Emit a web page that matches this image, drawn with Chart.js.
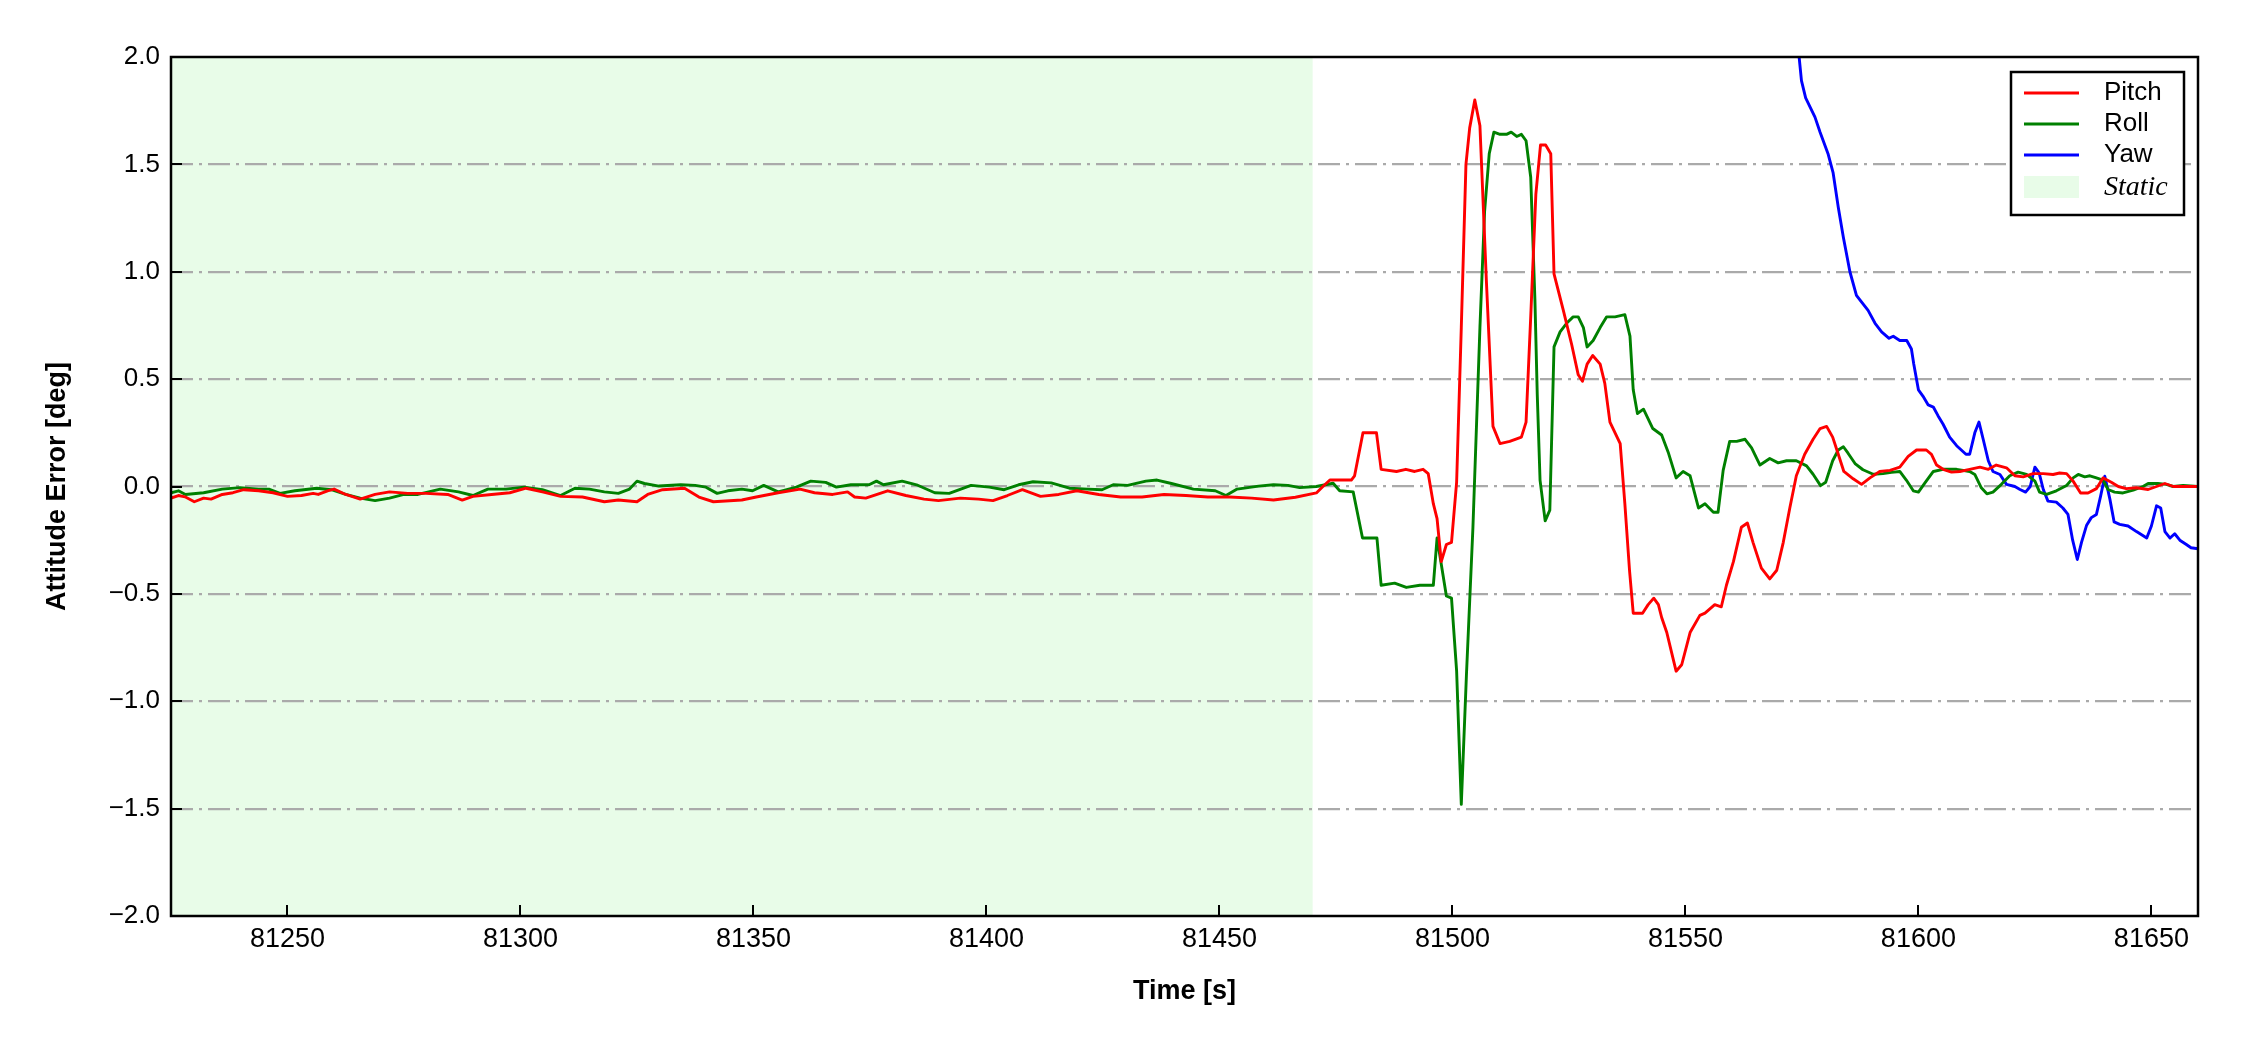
<!DOCTYPE html>
<html>
<head>
<meta charset="utf-8">
<script src="https://cdn.jsdelivr.net/npm/chart.js@4.4.1/dist/chart.umd.min.js"></script>
<style>
  html, body { margin: 0; padding: 0; background: #fff; }
  canvas { display: block; }
</style>
</head>
<body>
<canvas id="grafico" width="2250" height="1050"></canvas>
<script>
// Tempo [s] e erros de atitude [deg]
const pitchT = [81225, 81226.6, 81228, 81230, 81232, 81233.6, 81236, 81238.3, 81240.6, 81243.8, 81246.9, 81250, 81253, 81255.5, 81256.6, 81258.6, 81260, 81262.5, 81265.6, 81268.8, 81271.9, 81275.8, 81279.7, 81284.4, 81287.5, 81289.8, 81293.8, 81297.7, 81301.2, 81304.7, 81308.6, 81313.3, 81318, 81321, 81325, 81327.3, 81330.5, 81335.2, 81338.3, 81341.4, 81347.5, 81350.6, 81355.3, 81360, 81363.1, 81367, 81370.2, 81371.7, 81374.1, 81378.8, 81382.7, 81386.6, 81389.7, 81394.4, 81398.3, 81401.4, 81404.5, 81407.7, 81411.6, 81415.5, 81419.4, 81424.1, 81428.8, 81433.4, 81438.1, 81442.8, 81447.5, 81452.2, 81456.9, 81461.6, 81466.3, 81470.8, 81472.2, 81473.7, 81478.3, 81479, 81480.8, 81483.7, 81484.7, 81488, 81490, 81491.9, 81493.7, 81494.8, 81495.9, 81496.7, 81497.6, 81498.7, 81499.8, 81500.9, 81501.9, 81502.9, 81503.7, 81504.8, 81505.9, 81507.3, 81508.7, 81510.2, 81512.3, 81514.8, 81515.8, 81516.8, 81517.9, 81518.9, 81520, 81521.1, 81521.8, 81523.8, 81525.6, 81527, 81527.9, 81528.9, 81530.1, 81531.7, 81532.7, 81533.8, 81534.9, 81536, 81537, 81538, 81538.8, 81540.8, 81542, 81543.2, 81544.2, 81544.9, 81546, 81547, 81548, 81549.2, 81551, 81553.1, 81554.2, 81556.3, 81557.7, 81558.8, 81560.3, 81562, 81563.3, 81564.5, 81566.3, 81568.1, 81569.6, 81571, 81572.4, 81573.8, 81575.6, 81577.4, 81578.9, 81580.3, 81581.6, 81582.8, 81584, 81586, 81587.8, 81589.6, 81591.7, 81593.9, 81596, 81597.8, 81599.6, 81601.7, 81602.8, 81603.9, 81605.3, 81607.1, 81608.9, 81611, 81613.2, 81615, 81616.7, 81618.9, 81620.7, 81622.5, 81624.6, 81626.8, 81628.9, 81630.3, 81631.8, 81633.2, 81634.8, 81636.4, 81638.2, 81639.6, 81641.4, 81642.9, 81644.6, 81646.8, 81649.3, 81651.1, 81652.9, 81654.7, 81656.8, 81660];
const pitchV = [-0.054, -0.042, -0.048, -0.071, -0.054, -0.059, -0.037, -0.029, -0.015, -0.02, -0.029, -0.046, -0.042, -0.032, -0.037, -0.02, -0.012, -0.037, -0.059, -0.037, -0.025, -0.032, -0.032, -0.037, -0.063, -0.046, -0.037, -0.029, -0.008, -0.025, -0.046, -0.049, -0.071, -0.063, -0.071, -0.037, -0.015, -0.008, -0.049, -0.071, -0.063, -0.049, -0.029, -0.012, -0.029, -0.037, -0.025, -0.049, -0.054, -0.02, -0.042, -0.059, -0.066, -0.054, -0.059, -0.066, -0.042, -0.015, -0.046, -0.037, -0.02, -0.037, -0.049, -0.049, -0.037, -0.042, -0.049, -0.049, -0.054, -0.063, -0.05, -0.03, 0.0, 0.03, 0.03, 0.05, 0.25, 0.25, 0.08, 0.07, 0.08, 0.07, 0.08, 0.06, -0.08, -0.15, -0.35, -0.27, -0.26, 0.02, 0.74, 1.5, 1.67, 1.8, 1.68, 0.95, 0.28, 0.2, 0.21, 0.23, 0.3, 0.79, 1.36, 1.59, 1.59, 1.55, 0.99, 0.82, 0.66, 0.52, 0.49, 0.57, 0.61, 0.57, 0.48, 0.3, 0.25, 0.2, -0.08, -0.39, -0.59, -0.59, -0.55, -0.52, -0.55, -0.61, -0.68, -0.77, -0.86, -0.83, -0.68, -0.6, -0.59, -0.55, -0.56, -0.46, -0.35, -0.19, -0.17, -0.26, -0.38, -0.43, -0.39, -0.26, -0.1, 0.05, 0.15, 0.22, 0.27, 0.28, 0.23, 0.15, 0.07, 0.036, 0.01, 0.04, 0.07, 0.075, 0.09, 0.14, 0.17, 0.17, 0.15, 0.1, 0.08, 0.067, 0.07, 0.08, 0.09, 0.08, 0.1, 0.087, 0.05, 0.045, 0.06, 0.06, 0.056, 0.063, 0.06, 0.025, -0.03, -0.03, -0.01, 0.04, 0.02, 0.0, -0.01, -0.006, -0.014, 0.0, 0.014, 0.0, 0.0, 0.0];

const rollT = [81225, 81226.6, 81228.1, 81232, 81236, 81239.8, 81243.8, 81246, 81248.4, 81251.6, 81256.3, 81259.4, 81262.5, 81265.6, 81268.8, 81271.9, 81275, 81278, 81282.8, 81286.7, 81289.8, 81293, 81296.9, 81300.8, 81304.7, 81308.6, 81311.7, 81314.8, 81318, 81321, 81323.4, 81325, 81326.6, 81329.7, 81334.4, 81337.5, 81339.8, 81342.2, 81344.5, 81347.5, 81349.8, 81352.2, 81355.3, 81359.2, 81362.3, 81365.5, 81367.8, 81370.9, 81374.8, 81376.4, 81377.9, 81381.9, 81385, 81388.9, 81392, 81396.7, 81400.6, 81403.8, 81406.9, 81410, 81413.9, 81417.8, 81421.7, 81424.8, 81427.2, 81430.3, 81434.2, 81436.6, 81439.7, 81444.4, 81449.1, 81451.4, 81453.8, 81458.4, 81461.6, 81464.7, 81467.2, 81470.8, 81474.4, 81475.8, 81478.7, 81480.7, 81483.8, 81484.7, 81487.6, 81490.1, 81493, 81495.9, 81496.7, 81498.7, 81499.8, 81500.9, 81501.9, 81503, 81504.4, 81505.9, 81506.9, 81507.9, 81508.9, 81510.2, 81511.6, 81512.6, 81513.8, 81514.8, 81515.8, 81516.8, 81517.7, 81518.2, 81518.8, 81519.9, 81520.9, 81521.8, 81523.1, 81524.5, 81525.9, 81527, 81528.1, 81528.9, 81530.2, 81531.7, 81533.1, 81534.9, 81537, 81538.1, 81538.8, 81539.7, 81541, 81543, 81544.9, 81546.3, 81548, 81549.5, 81551, 81552.8, 81554.2, 81556, 81557, 81558.1, 81559.5, 81561, 81562.8, 81564.2, 81566, 81568.1, 81569.9, 81571.7, 81573.8, 81576, 81577.4, 81579, 81580.1, 81581.6, 81582.8, 81583.9, 81584.9, 81586.4, 81588.1, 81590.3, 81592.4, 81594.2, 81596, 81597.4, 81598.9, 81600, 81601.4, 81603.2, 81605.3, 81608.2, 81611, 81612.1, 81613.5, 81614.7, 81616, 81617.8, 81619.6, 81621.4, 81623.2, 81625, 81626, 81627.5, 81629.6, 81631.8, 81633.2, 81634.3, 81635.7, 81636.8, 81638.2, 81639.6, 81640.7, 81642.1, 81643.9, 81646.1, 81648.2, 81649.3, 81651.4, 81653.2, 81654.7, 81656.8, 81660];
const rollV = [-0.029, -0.02, -0.037, -0.029, -0.012, -0.005, -0.012, -0.012, -0.032, -0.02, -0.008, -0.015, -0.037, -0.054, -0.066, -0.054, -0.037, -0.037, -0.012, -0.025, -0.042, -0.012, -0.012, -0.003, -0.015, -0.042, -0.008, -0.012, -0.025, -0.032, -0.012, 0.025, 0.014, 0.002, 0.008, 0.005, -0.003, -0.032, -0.02, -0.012, -0.02, 0.005, -0.025, -0.003, 0.025, 0.019, -0.003, 0.008, 0.008, 0.025, 0.008, 0.025, 0.008, -0.029, -0.032, 0.005, -0.003, -0.015, 0.008, 0.022, 0.017, -0.008, -0.012, -0.015, 0.008, 0.005, 0.025, 0.03, 0.014, -0.012, -0.02, -0.042, -0.012, 0.002, 0.008, 0.005, -0.005, 0.0, 0.015, -0.02, -0.025, -0.24, -0.24, -0.46, -0.45, -0.47, -0.46, -0.46, -0.24, -0.51, -0.52, -0.86, -1.48, -0.88, -0.19, 0.74, 1.28, 1.55, 1.65, 1.64, 1.64, 1.65, 1.63, 1.64, 1.61, 1.44, 0.87, 0.43, 0.03, -0.16, -0.11, 0.65, 0.72, 0.76, 0.79, 0.79, 0.74, 0.65, 0.68, 0.74, 0.79, 0.79, 0.8, 0.7, 0.45, 0.34, 0.36, 0.27, 0.24, 0.16, 0.04, 0.07, 0.05, -0.1, -0.08, -0.12, -0.12, 0.075, 0.21, 0.21, 0.22, 0.18, 0.1, 0.13, 0.11, 0.12, 0.12, 0.096, 0.057, 0.004, 0.02, 0.12, 0.17, 0.185, 0.155, 0.107, 0.078, 0.057, 0.06, 0.066, 0.07, 0.03, -0.02, -0.026, 0.017, 0.07, 0.08, 0.08, 0.07, 0.056, -0.006, -0.034, -0.026, 0.01, 0.05, 0.067, 0.056, 0.025, -0.026, -0.037, -0.02, 0.005, 0.04, 0.056, 0.045, 0.05, 0.04, 0.03, -0.014, -0.026, -0.03, -0.017, 0.0, 0.014, 0.014, 0.01, 0.0, 0.005, 0.0];

const yawT = [81573.6, 81574.4, 81574.9, 81575.8, 81577.8, 81578.9, 81580.6, 81581.7, 81582.8, 81583.9, 81585.3, 81586.7, 81587.4, 81589.2, 81590.7, 81592.1, 81593.7, 81594.6, 81596, 81597.5, 81598.5, 81599, 81600, 81601, 81602.1, 81603.2, 81604.2, 81605.3, 81606.7, 81608.2, 81609.2, 81610.2, 81611, 81612.1, 81613, 81613.9, 81615, 81616, 81617.5, 81618.9, 81620.7, 81621.8, 81623, 81624, 81625, 81625.9, 81626.8, 81627.8, 81629.6, 81631, 81632.1, 81633.1, 81634.1, 81635, 81636.1, 81637.1, 81638.2, 81639.1, 81640, 81641.1, 81642, 81643.2, 81645, 81646.8, 81649, 81650, 81651.1, 81652, 81652.9, 81654, 81655, 81656.1, 81657.5, 81658.5, 81660];
const yawV = [2.15, 2.0, 1.89, 1.81, 1.72, 1.65, 1.55, 1.46, 1.3, 1.16, 1.0, 0.89, 0.87, 0.82, 0.76, 0.72, 0.69, 0.7, 0.68, 0.68, 0.64, 0.57, 0.45, 0.42, 0.38, 0.37, 0.33, 0.29, 0.23, 0.19, 0.17, 0.15, 0.15, 0.25, 0.3, 0.22, 0.12, 0.07, 0.056, 0.01, 0.0, -0.014, -0.026, 0.0, 0.09, 0.063, -0.014, -0.068, -0.073, -0.1, -0.13, -0.25, -0.34, -0.26, -0.18, -0.145, -0.13, -0.045, 0.048, -0.06, -0.165, -0.176, -0.184, -0.21, -0.24, -0.184, -0.09, -0.1, -0.21, -0.24, -0.22, -0.25, -0.27, -0.285, -0.29];

// Intervalo estático e eixos
const staticStart = 81225;
const staticEnd = 81470;
const xTicks = [81250, 81300, 81350, 81400, 81450, 81500, 81550, 81600, 81650];
const yTicks = [-2, -1.5, -1, -0.5, 0, 0.5, 1, 1.5, 2];

const fonte = "'Liberation Sans', Arial, sans-serif";
const corStatic = 'rgb(232, 252, 232)';

function pares(t, v) {
  return t.map((x, i) => ({ x: x, y: v[i] }));
}

// Faixa verde do período estático (desenhada antes da grade)
const faixaStatic = {
  id: 'faixaStatic',
  beforeDraw(chart) {
    const { ctx, chartArea, scales } = chart;
    const x0 = scales.x.getPixelForValue(staticStart);
    const x1 = scales.x.getPixelForValue(staticEnd);
    ctx.save();
    ctx.fillStyle = corStatic;
    ctx.fillRect(x0, chartArea.top, x1 - x0, chartArea.bottom - chartArea.top);
    ctx.restore();
  }
};

// Moldura, marcas para dentro e legenda
const moldura = {
  id: 'moldura',
  afterDraw(chart) {
    const { ctx, chartArea, scales } = chart;
    const a = chartArea;
    ctx.save();
    ctx.strokeStyle = '#000';
    ctx.lineWidth = 2;
    ctx.beginPath();
    xTicks.forEach(v => {
      const px = Math.round(scales.x.getPixelForValue(v));
      ctx.moveTo(px, a.bottom);
      ctx.lineTo(px, a.bottom - 11);
    });
    yTicks.forEach(v => {
      const py = Math.round(scales.y.getPixelForValue(v));
      ctx.moveTo(a.left, py);
      ctx.lineTo(a.left + 11, py);
    });
    ctx.stroke();
    ctx.lineWidth = 2.5;
    ctx.strokeRect(a.left, a.top, a.right - a.left, a.bottom - a.top);

    // legenda
    const bx = 2011, by = 72, bw = 173, bh = 143;
    ctx.fillStyle = '#fff';
    ctx.fillRect(bx, by, bw, bh);
    ctx.lineWidth = 2.5;
    ctx.strokeRect(bx, by, bw, bh);
    const linhas = chart.data.datasets;
    const ys = [93, 124, 155, 187];
    ctx.textBaseline = 'middle';
    ctx.textAlign = 'left';
    linhas.forEach((ds, i) => {
      ctx.strokeStyle = ds.borderColor;
      ctx.lineWidth = 2.8;
      ctx.beginPath();
      ctx.moveTo(2024, ys[i]);
      ctx.lineTo(2079, ys[i]);
      ctx.stroke();
      ctx.fillStyle = '#000';
      ctx.font = '26px ' + fonte;
      ctx.fillText(ds.label, 2104, ys[i]);
    });
    ctx.fillStyle = corStatic;
    ctx.fillRect(2024, ys[3] - 11, 55, 22);
    ctx.fillStyle = '#000';
    ctx.font = "italic 28px 'Liberation Serif', 'Times New Roman', serif";
    ctx.fillText('Static', 2104, ys[3] + 1);
    ctx.restore();
  }
};

const ctxG = document.getElementById('grafico').getContext('2d');
new Chart(ctxG, {
  type: 'line',
  data: {
    datasets: [
      { label: 'Pitch', data: pares(pitchT, pitchV), borderColor: '#ff0000' },
      { label: 'Roll', data: pares(rollT, rollV), borderColor: '#008000' },
      { label: 'Yaw', data: pares(yawT, yawV), borderColor: '#0000ff' }
    ]
  },
  options: {
    responsive: false,
    animation: false,
    devicePixelRatio: 1,
    layout: { padding: { top: 57, right: 52, left: 0, bottom: 0 } },
    elements: {
      line: { borderWidth: 2.9, tension: 0, borderJoinStyle: 'round', fill: false },
      point: { radius: 0 }
    },
    scales: {
      x: {
        type: 'linear',
        min: staticStart,
        max: 81660,
        afterBuildTicks: s => { s.ticks = xTicks.map(v => ({ value: v })); },
        afterFit: s => { s.height = 134; },
        grid: { display: false, drawTicks: false },
        border: { display: false },
        ticks: {
          padding: 7,
          color: '#000',
          font: { family: fonte, size: 27 },
          callback: v => String(v)
        },
        title: {
          display: true,
          text: 'Time [s]',
          color: '#000',
          font: { family: fonte, size: 27, weight: 'bold' },
          padding: { top: 0, bottom: 42 }
        }
      },
      y: {
        min: -2,
        max: 2,
        afterBuildTicks: s => { s.ticks = yTicks.map(v => ({ value: v })); },
        afterFit: s => { s.width = 171; },
        grid: {
          drawTicks: false,
          lineWidth: 2.2,
          color: c => (Math.abs(c.tick.value) === 2 ? 'rgba(0,0,0,0)' : '#aaaaaa')
        },
        border: { display: false, dash: [22, 6, 3, 6] },
        ticks: {
          padding: 11,
          color: '#000',
          font: { family: fonte, size: 26 },
          callback: v => v.toFixed(1).replace('-', '\u2212')
        },
        title: {
          display: true,
          text: 'Attitude Error [deg]',
          color: '#000',
          font: { family: fonte, size: 27, weight: 'bold' },
          padding: { top: 41, bottom: 0 }
        }
      }
    },
    plugins: {
      legend: { display: false },
      tooltip: { enabled: false }
    }
  },
  plugins: [faixaStatic, moldura]
});
</script>
</body>
</html>
